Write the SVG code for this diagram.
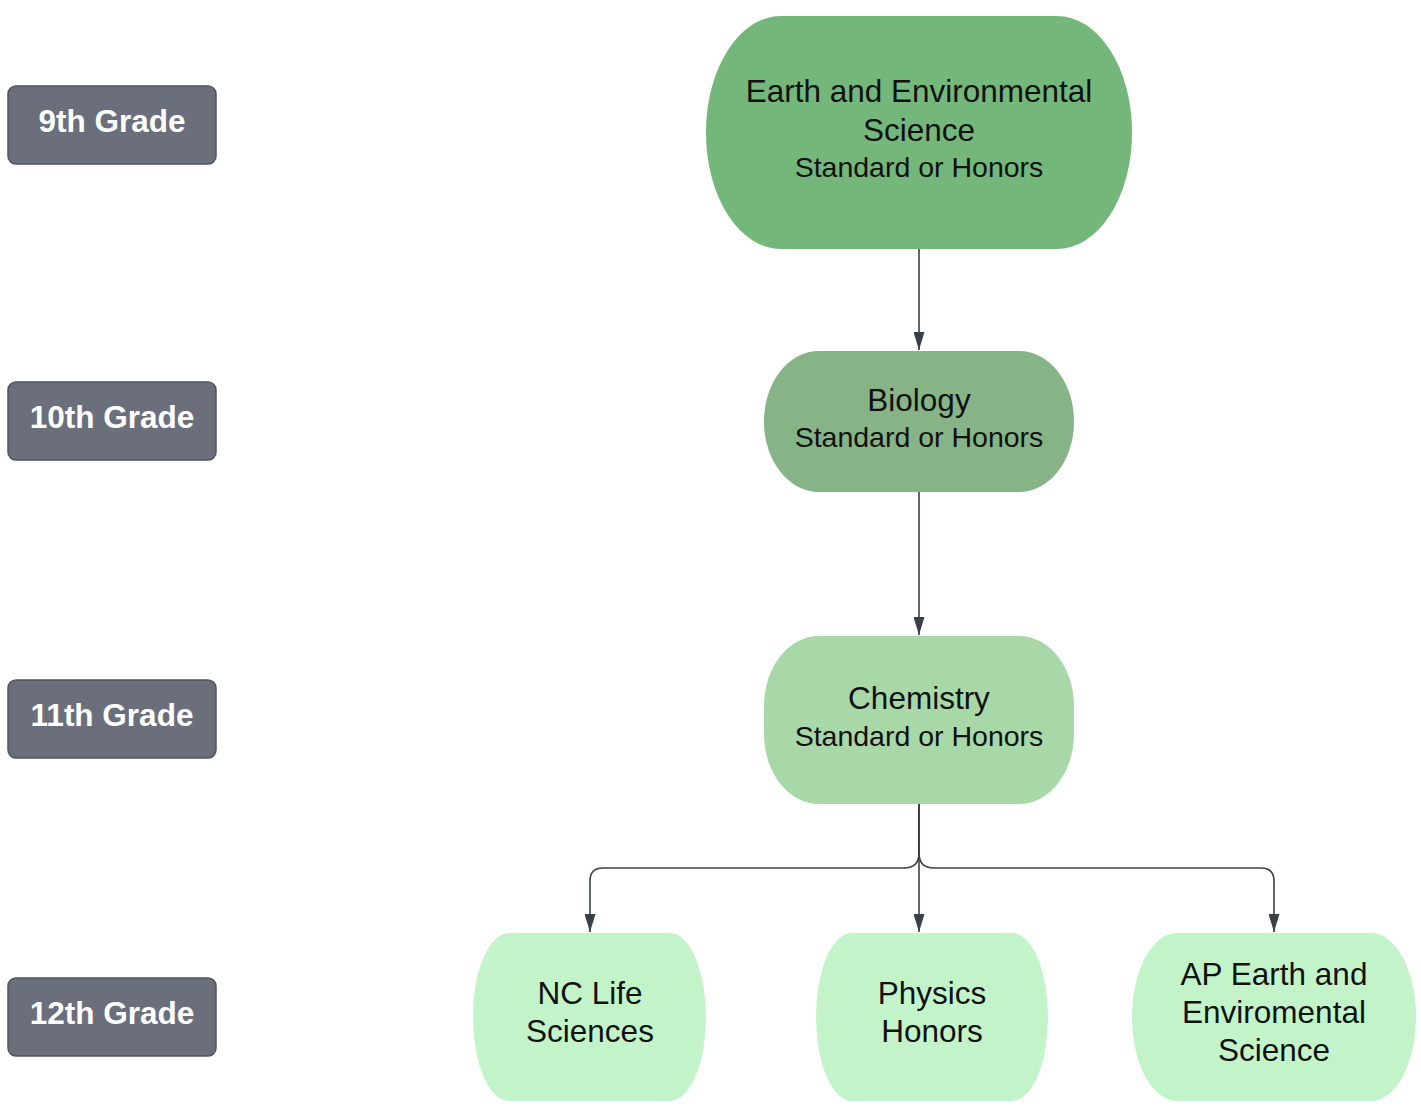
<svg xmlns="http://www.w3.org/2000/svg" width="1421" height="1110" viewBox="0 0 1421 1110">
<defs>
<style>
.grade rect{fill:#6b6f7b;stroke:#4f535c;stroke-width:1.5}
.grade text{fill:#fff;font-family:"Liberation Sans",Arial,sans-serif;font-weight:bold;font-size:31.5px;text-anchor:middle}
.node text{fill:#111;font-family:"Liberation Sans",Arial,sans-serif;text-anchor:middle}
.t1{font-size:31.5px}
.t2{font-size:28.5px}
.conn{fill:none;stroke:#3a4048;stroke-width:1.6}
</style>
<marker id="arr" viewBox="0 0 18 11" refX="18" refY="5.5" markerWidth="18" markerHeight="11" markerUnits="userSpaceOnUse" orient="auto">
<path d="M0,0 L18,5.5 L0,11 Z" fill="#3a4048"/>
</marker>
</defs>
<rect width="1421" height="1110" fill="#fff"/>

<g id="grade9" class="grade"><rect x="8" y="86" width="208" height="78" rx="8"/><text x="112" y="132">9th Grade</text></g>
<g id="grade10" class="grade"><rect x="8" y="382" width="208" height="78" rx="8"/><text x="112" y="428">10th Grade</text></g>
<g id="grade11" class="grade"><rect x="8" y="680" width="208" height="78" rx="8"/><text x="112" y="726">11th Grade</text></g>
<g id="grade12" class="grade"><rect x="8" y="978" width="208" height="78" rx="8"/><text x="112" y="1024">12th Grade</text></g>

<g id="connectors">
<path class="conn" d="M919,249 V350" marker-end="url(#arr)"/>
<path class="conn" d="M919,492 V635" marker-end="url(#arr)"/>
<path class="conn" d="M919,804 V932" marker-end="url(#arr)"/>
<path class="conn" d="M919,804 V853 Q919,868 904,868 H603 Q590,868 590,881 V932" marker-end="url(#arr)"/>
<path class="conn" d="M919,804 V853 Q919,868 934,868 H1261 Q1274,868 1274,881 V932" marker-end="url(#arr)"/>
</g>

<g id="earth" class="node">
<rect x="706" y="16" width="426" height="233" rx="75" ry="116" fill="#74b77a"/>
<text x="919" y="102" class="t1">Earth and Environmental</text>
<text x="919" y="141" class="t1">Science</text>
<text x="919" y="177" class="t2">Standard or Honors</text>
</g>
<g id="biology" class="node">
<rect x="764" y="351" width="310" height="141" rx="55" ry="70" fill="#86b487"/>
<text x="919" y="411" class="t1">Biology</text>
<text x="919" y="447" class="t2">Standard or Honors</text>
</g>
<g id="chemistry" class="node">
<rect x="764" y="636" width="310" height="168" rx="55" ry="70" fill="#a8d8a8"/>
<text x="919" y="709" class="t1">Chemistry</text>
<text x="919" y="746" class="t2">Standard or Honors</text>
</g>
<g id="nclife" class="node">
<rect x="473" y="933" width="233" height="168" rx="36" ry="84" fill="#c3f4c9"/>
<text x="590" y="1004" class="t1">NC Life</text>
<text x="590" y="1042" class="t1">Sciences</text>
</g>
<g id="physics" class="node">
<rect x="816" y="933" width="232" height="168" rx="36" ry="84" fill="#c3f4c9"/>
<text x="932" y="1004" class="t1">Physics</text>
<text x="932" y="1042" class="t1">Honors</text>
</g>
<g id="apearth" class="node">
<rect x="1132" y="933" width="284" height="168" rx="45" ry="84" fill="#c3f4c9"/>
<text x="1274" y="985" class="t1">AP Earth and</text>
<text x="1274" y="1023" class="t1">Enviromental</text>
<text x="1274" y="1061" class="t1">Science</text>
</g>
</svg>
